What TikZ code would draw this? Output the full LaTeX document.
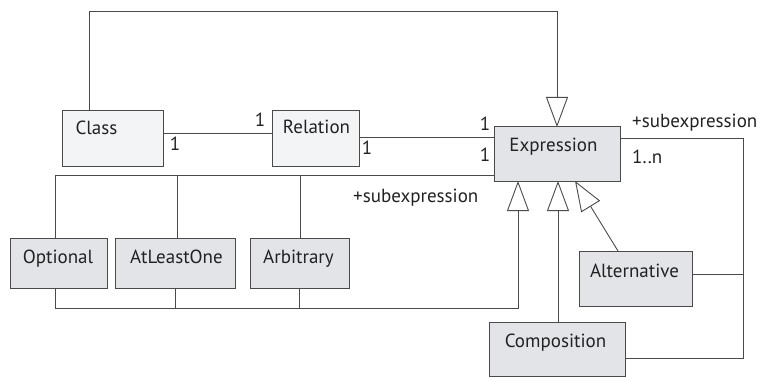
\documentclass[tikz,border=0pt]{standalone}
\usepackage{fontspec}
\setmainfont{PT Sans}
\usetikzlibrary{arrows.meta}
\definecolor{lineC}{HTML}{4A4A4A}
\definecolor{lightFill}{HTML}{F3F4F6}
\definecolor{darkFill}{HTML}{E2E4E8}
\definecolor{textC}{HTML}{222222}
\begin{document}
\begin{tikzpicture}[x=1pt,y=-1pt,
  box/.style={draw=lineC,line width=1pt,rectangle,inner sep=0pt,outer sep=0pt},
  lightbox/.style={box,fill=lightFill},
  darkbox/.style={box,fill=darkFill},
  txt/.style={font=\fontsize{19}{22}\selectfont,text=textC,inner sep=0pt,anchor=base},
  mult/.style={txt},
  role/.style={txt,anchor=base west},
  conn/.style={draw=lineC,line width=0.9pt},
  inh/.style={conn,-{Triangle[open,length=30pt,width=22pt,fill=white]}}]
\useasboundingbox (0,0) rectangle (765,377);

% classes
\node[lightbox,minimum width=101pt,minimum height=55pt] (class) at (112.5,138.5) {};
\node[lightbox,minimum width=87pt,minimum height=55pt] (relation) at (315.5,138.5) {};
\node[darkbox,minimum width=126pt,minimum height=54pt] (expr) at (557,154) {};
\node[darkbox,minimum width=97pt,minimum height=50pt] (optional) at (58.5,263) {};
\node[darkbox,minimum width=120pt,minimum height=50pt] (atleast) at (175,263) {};
\node[darkbox,minimum width=99pt,minimum height=50pt] (arbitrary) at (299.5,263) {};
\node[darkbox,minimum width=113pt,minimum height=55pt] (alternative) at (635.5,278.5) {};
\node[darkbox,minimum width=136pt,minimum height=54pt] (composition) at (557,349) {};

% class names
\node[txt] (classT) at (96.5,135) {Class};
\node[txt] (relationT) at (316.5,134) {Relation};
\node[txt] (exprT) at (553.5,151) {Expression};
\node[txt] (optionalT) at (58,263) {Optional};
\node[txt] (atleastT) at (176.5,263) {AtLeastOne};
\node[txt] (arbitraryT) at (298.5,263) {Arbitrary};
\node[txt] (alternativeT) at (634.5,277) {Alternative};
\node[txt] (compositionT) at (555.5,347) {Composition};

% associations
\draw[conn] (class.east |- 0,133) -- (relation.west |- 0,133);
\draw[conn] (relation.east |- 0,137) -- (expr.west |- 0,137);
\draw[conn] (expr.west |- 0,175) -| (optional.north -| 55,0);
\draw[conn] (177,175) -- (atleast.north -| 177,0);
\draw[conn] (300,175) -- (arbitrary.north -| 300,0);
\draw[conn] (expr.east |- 0,138) -| (743,358) -- (composition.east |- 0,358);
\draw[conn] (alternative.east |- 0,274) -- (743,274);

% generalisations
\draw[inh] (class.north -| 89,0) |- (557,11) -- (expr.north -| 557,0);
\draw[conn] (atleast.south -| 175,0) -- (175,308);
\draw[conn] (arbitrary.south -| 299,0) -- (299,308);
\draw[inh] (optional.south -| 55,0) |- (518,308) -- (expr.south -| 518,0);
\draw[inh] (composition.north -| 558,0) -- (expr.south -| 558,0);
\draw[inh] (alternative.north -| 618,0) -- (expr.south -| 575,0);

% multiplicities and roles
\node[mult] (m1) at (175,150) {1};
\node[mult] (m2) at (260,126) {1};
\node[mult] (m3) at (367,154) {1};
\node[mult] (m4) at (485,131) {1};
\node[mult] (m5) at (485,161) {1};
\node[role] (role1) at (353,202) {+subexpression};
\node[role] (role2) at (632,128) {+subexpression};
\node[role] (m6) at (632,163) {1..n};
\end{tikzpicture}
\end{document}
